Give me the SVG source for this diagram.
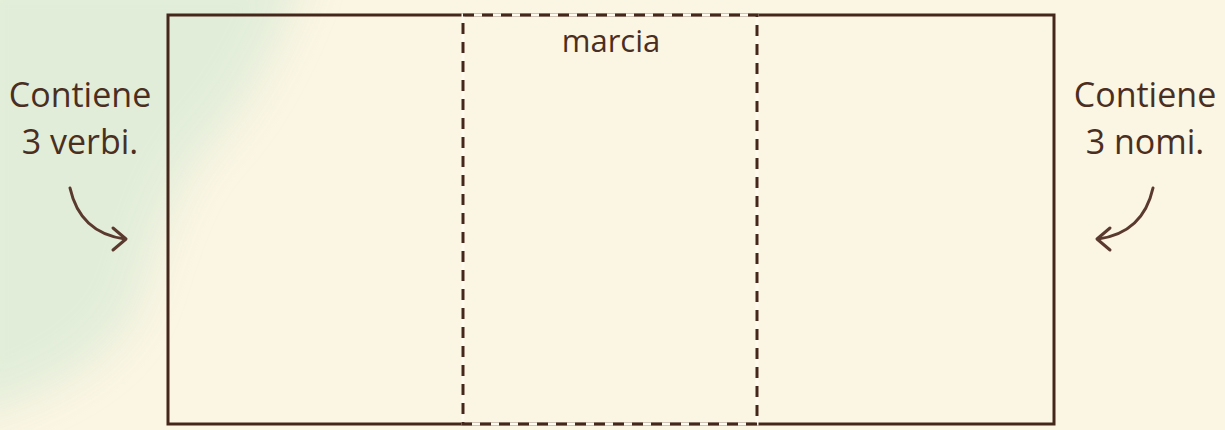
<svg xmlns="http://www.w3.org/2000/svg" width="1225" height="430" viewBox="0 0 1225 430">
  <style>
    .lbl { font-family: "Open Sans", "Noto Sans", sans-serif; fill: #4a2e22; text-anchor: middle; }
    .side { font-size: 34px; }
    .mid { font-size: 31px; }
    .frame { fill: none; stroke: #45261a; stroke-width: 3; }
    .gapline { fill: none; stroke: #fffaee; stroke-width: 3; }
    .dash { fill: none; stroke: #45261a; stroke-width: 3; stroke-dasharray: 11 8; }
    .arrow { fill: none; stroke: #5a3a2e; stroke-width: 3; stroke-linecap: round; stroke-linejoin: round; }
  </style>
  <defs>
    <filter id="blur" x="-30%" y="-30%" width="160%" height="160%">
      <feGaussianBlur stdDeviation="20"/>
    </filter>
  </defs>
  <rect x="0" y="0" width="1225" height="430" fill="#fbf5e3"/>
  <path d="M-40,-40 L310,-40 C 285,30 255,100 205,150 C 172,190 155,250 140,300 C 120,350 70,390 -40,420 Z" fill="#e0edd9" opacity="0.9" filter="url(#blur)"/>

  <g id="box-left-right">
    <rect class="frame" x="168" y="15" width="886" height="409"/>
  </g>
  <g id="box-middle">
    <rect class="gapline" x="463" y="15" width="294" height="409"/>
    <rect class="dash" x="463" y="15" width="294" height="409"/>
    <text class="lbl mid" x="611" y="52">marcia</text>
  </g>
  <g id="label-left">
    <text class="lbl side" x="80" y="107">Contiene</text>
    <text class="lbl side" x="80" y="154">3 verbi.</text>
  </g>
  <g id="label-right">
    <text class="lbl side" x="1145" y="107">Contiene</text>
    <text class="lbl side" x="1145" y="154">3 nomi.</text>
  </g>
  <g id="connectors">
    <path class="arrow" d="M70,188 Q 80,233 125,239"/>
    <path class="arrow" d="M113,228 L126,239 L113,250"/>
    <path class="arrow" d="M1153,188 Q 1143,233 1098,239"/>
    <path class="arrow" d="M1110,228 L1097,239 L1110,250"/>
  </g>
</svg>
